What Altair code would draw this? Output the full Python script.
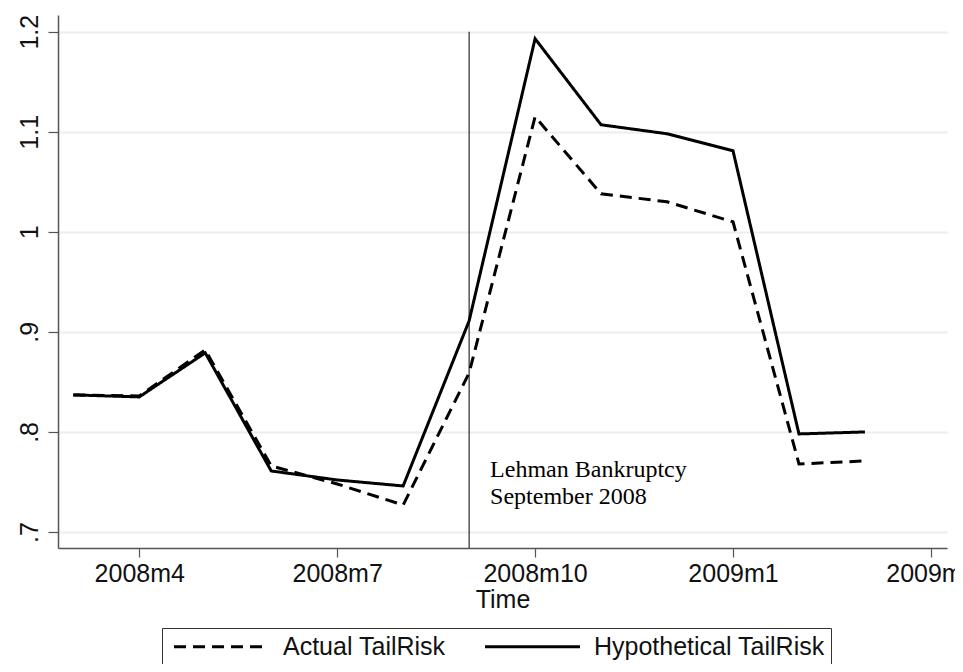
import altair as alt
import pandas as pd

# ---- data ----
periods = ["2008m3", "2008m4", "2008m5", "2008m6", "2008m7", "2008m8", "2008m9",
           "2008m10", "2008m11", "2008m12", "2009m1", "2009m2", "2009m3"]
actual = [0.837, 0.836, 0.882, 0.766, 0.748, 0.727, 0.859, 1.115, 1.038, 1.030, 1.010, 0.768, 0.771]
hypothetical = [0.837, 0.835, 0.879, 0.761, 0.752, 0.746, 0.911, 1.193, 1.107, 1.098, 1.081, 0.798, 0.800]
series_names = ["Actual TailRisk", "Hypothetical TailRisk"]

x_tick_values = [1, 4, 7, 10, 13]
x_tick_labels = ["2008m4", "2008m7", "2008m10", "2009m1", "2009m4"]
y_tick_values = [0.7, 0.8, 0.9, 1.0, 1.1, 1.2]
y_tick_labels = [".7", ".8", ".9", "1", "1.1", "1.2"]

event_period = "2008m9"
event_top = 1.2
event_text = ["Lehman Bankruptcy", "September 2008"]
event_text_value = 0.755

# ---- tables ----
rows = []
for i, p in enumerate(periods):
    rows.append({"t": i, "period": p, "series": series_names[0], "value": actual[i]})
    rows.append({"t": i, "period": p, "series": series_names[1], "value": hypothetical[i]})
df = pd.DataFrame(rows)

ev_idx = periods.index(event_period)
ev_df = pd.DataFrame({"t": [ev_idx], "value": [event_top]})
txt_df = pd.DataFrame({"t": [ev_idx], "value": [event_text_value]})

x_expr = " : ".join(f"datum.value == {v} ? '{l}'" for v, l in zip(x_tick_values, x_tick_labels)) + " : ''"
y_expr = " : ".join(f"abs(datum.value - {v}) < 0.001 ? '{l}'" for v, l in zip(y_tick_values, y_tick_labels)) + " : ''"

W, H = 889, 533
x_scale = alt.Scale(domain=[-0.232, 13.244], nice=False, zero=False)
y_scale = alt.Scale(domain=[0.684, 1.2167], nice=False, zero=False)

SANS = "Liberation Sans, Arial, sans-serif"
SERIF = "Liberation Serif, Times New Roman, serif"
FS = 25

x_axis = alt.Axis(values=x_tick_values, labelExpr=x_expr, title="Time", grid=False,
                  labelFont=SANS, labelFontSize=FS, labelColor="#111111", labelPadding=4,
                  tickSize=9, tickColor="#555555", tickWidth=1.2,
                  domainColor="#555555", domainWidth=1.5,
                  titleFont=SANS, titleFontSize=FS, titleFontWeight="normal", titleColor="#111111",
                  titlePadding=1, labelOverlap=False, labelFlush=False)
y_axis = alt.Axis(values=y_tick_values, labelExpr=y_expr, title=None, grid=True,
                  gridColor="#e8eff0", gridWidth=2,
                  labelFont=SANS, labelFontSize=FS, labelColor="#111111",
                  labelAngle=270, labelAlign="center", labelBaseline="alphabetic", labelPadding=11,
                  tickSize=10, tickColor="#555555", tickWidth=1.2,
                  domainColor="#555555", domainWidth=1.5, labelOverlap=False, labelFlush=False)

rule = alt.Chart(ev_df).mark_rule(color="black", strokeWidth=1).encode(
    x=alt.X("t:Q", scale=x_scale, axis=x_axis),
    y=alt.Y("value:Q", scale=y_scale, axis=y_axis),
    y2=alt.value(H),
)

lines = alt.Chart(df).mark_line(color="black", strokeWidth=3).encode(
    x=alt.X("t:Q", scale=x_scale),
    y=alt.Y("value:Q", scale=y_scale),
    strokeDash=alt.StrokeDash(
        "series:N",
        scale=alt.Scale(domain=series_names, range=[[12, 7], [1, 0]]),
        legend=alt.Legend(
            title=None, orient="none", legendX=104, legendY=613, direction="horizontal",
            symbolType="M-1,0L9,0", symbolSize=361, symbolStrokeWidth=3,
            symbolStrokeColor="black", symbolFillColor="transparent", symbolOffset=3,
            labelFont=SANS, labelFontSize=FS, labelColor="#111111", labelOffset=87, labelLimit=400,
            columnPadding=33, padding=6, strokeColor="#333333", fillColor="white",
        ),
    ),
    order="t:Q",
)

text = alt.Chart(txt_df).mark_text(
    align="left", baseline="alphabetic", dx=21, font=SERIF, fontSize=24, lineHeight=27, color="black"
).encode(
    x=alt.X("t:Q", scale=x_scale),
    y=alt.Y("value:Q", scale=y_scale),
    text=alt.value(event_text),
)

chart = alt.layer(rule, lines, text).properties(
    width=W, height=H,
    autosize=alt.AutoSizeParams(type="none"),
    padding={"left": 50, "top": 7, "right": 8, "bottom": 116},
).configure_view(stroke=None)

chart.save("out.html", embed_options={"renderer": "svg", "actions": False})
